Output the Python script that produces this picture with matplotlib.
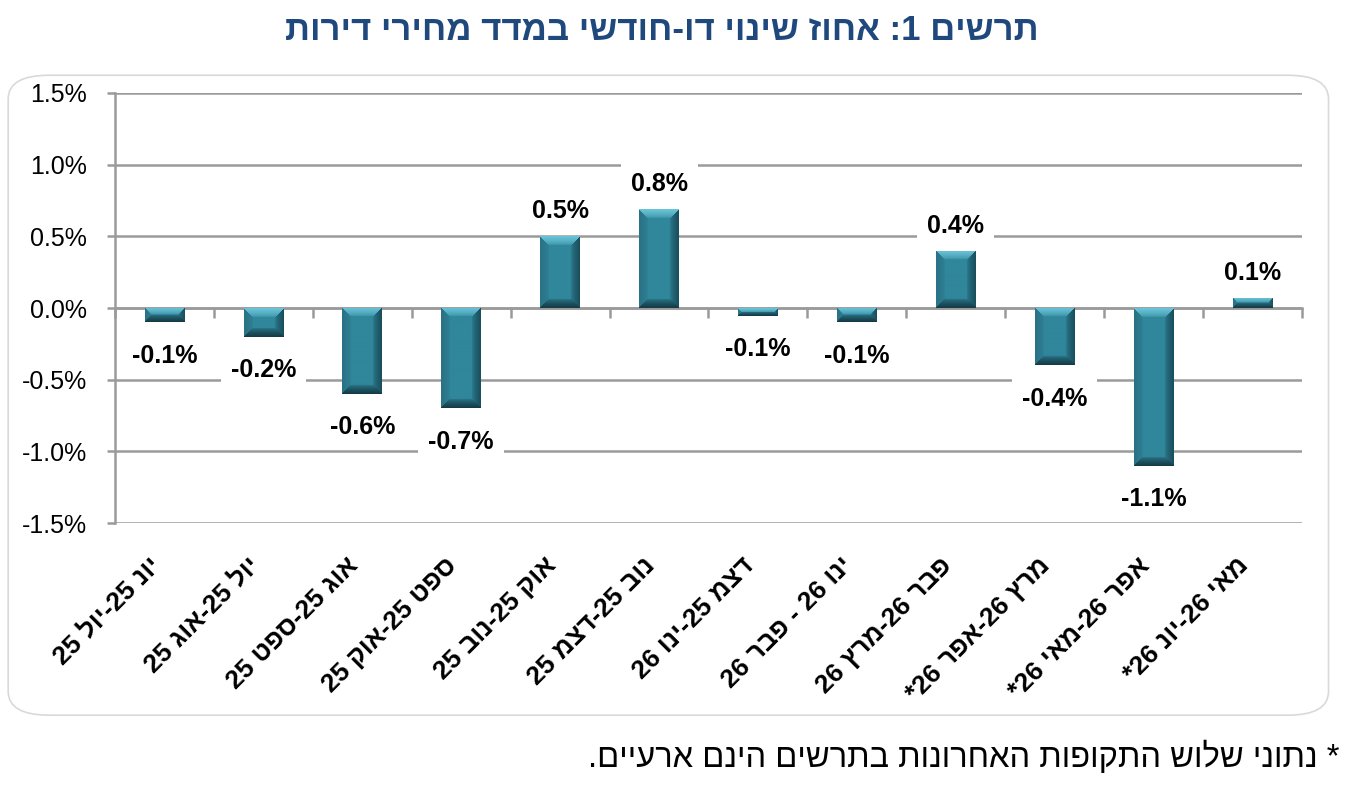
import re
import numpy as np
import matplotlib
matplotlib.use('Agg')
import matplotlib.pyplot as plt
from matplotlib.patches import FancyBboxPatch
from matplotlib.transforms import blended_transform_factory

plt.rcParams['font.family'] = ['Liberation Sans', 'DejaVu Sans']

# נתונים (סדר לוגי)
periods = ['יונ 25-יול 25', 'יול 25-אוג 25', 'אוג 25-ספט 25', 'ספט 25-אוק 25',
           'אוק 25-נוב 25', 'נוב 25-דצמ 25', 'דצמ 25-ינו 26', 'ינו 26 - פבר 26',
           'פבר 26-מרץ 26', 'מרץ 26-אפר 26*', 'אפר 26-מאי 26*', 'מאי 26-יונ 26*']
values = [-0.1, -0.2, -0.6, -0.7, 0.5, 0.69, -0.055, -0.1, 0.4, -0.4, -1.1, 0.07]
value_labels = ['-0.1%', '-0.2%', '-0.6%', '-0.7%', '0.5%', '0.8%',
                '-0.1%', '-0.1%', '0.4%', '-0.4%', '-1.1%', '0.1%']
y_ticks = [-1.5, -1.0, -0.5, 0.0, 0.5, 1.0, 1.5]

title = 'תרשים 1: אחוז שינוי דו-חודשי במדד מחירי דירות'
note = '* נתוני שלוש התקופות האחרונות בתרשים הינם ארעיים.'

grid_col = '#9a9a9a'
bar_col = '#2f8398'


def heb(s):
    # matplotlib has no bidi: reverse for display, keep numbers in order
    rev = s[::-1]
    return re.sub(r'\d+(?:\.\d+)?', lambda m: m.group(0)[::-1], rev)


def bevel(w, h, b):
    r = np.arange(h)[:, None] + np.zeros((1, w))
    c = np.arange(w)[None, :] + np.zeros((h, 1))
    d = np.stack([r, h - 1 - r, c, w - 1 - c])
    idx = d.argmin(0)
    m = d.min(0)
    center = np.array([0x30, 0x86, 0x9b]) / 255
    edges = np.array([[0x6a, 0xc4, 0xd8], [0x15, 0x3c, 0x47],
                      [0x2a, 0x72, 0x85], [0x1a, 0x4f, 0x5d]]) / 255
    t = np.clip((b - m) / b, 0, 1) ** 0.6
    img = center + (edges[idx] - center) * t[..., None]
    return img


fig = plt.figure(figsize=(13.64, 7.92), dpi=100)
fig.patches.append(FancyBboxPatch((0.006, 0.097), 0.968, 0.808,
                                  boxstyle='round,pad=0,rounding_size=0.03',
                                  transform=fig.transFigure, fc='none',
                                  ec='#d9d9d9', lw=1.2, zorder=0))

ax = fig.add_axes([0.0843, 0.3396, 0.8702, 0.543])
ax.set_facecolor('none')
x = np.arange(len(values))
bars = ax.bar(x, values, width=0.4, color=bar_col, zorder=3)

ax.set_xlim(-0.5, len(values) - 0.5)
ax.set_ylim(-1.5, 1.5)

# bevel shading for each bar
px_per_unit = ax.bbox.height / 3.0
px_per_cat = ax.bbox.width / len(values)
for rect in bars:
    x0, y0 = rect.get_x(), rect.get_y()
    w, h = rect.get_width(), rect.get_height()
    ybot, ytop = min(y0, y0 + h), max(y0, y0 + h)
    wp = max(int(round(w * px_per_cat)), 2)
    hp = max(int(round((ytop - ybot) * px_per_unit)), 2)
    b = min(9, hp / 2.0, wp / 2.0)
    im = ax.imshow(bevel(wp, hp, b), extent=(x0, x0 + w, ybot, ytop),
                   aspect='auto', interpolation='bilinear', zorder=4)
    im.set_clip_path(rect)

ax.set_xlim(-0.5, len(values) - 0.5)
ax.set_ylim(-1.5, 1.5)

ax.set_yticks(y_ticks)
ax.set_yticklabels([f'{v:.1f}%' for v in y_ticks], fontsize=18)
ax.yaxis.grid(True, color=grid_col, lw=1.8)
ax.set_axisbelow(True)
ax.tick_params(axis='y', direction='out', length=6, width=1.8, color=grid_col, pad=14)

for s in ['top', 'right']:
    ax.spines[s].set_visible(False)
ax.spines['left'].set_color(grid_col)
ax.spines['left'].set_linewidth(1.8)
ax.spines['bottom'].set_position(('data', 0))
ax.spines['bottom'].set_color(grid_col)
ax.spines['bottom'].set_linewidth(1.8)
ax.spines['bottom'].set_zorder(2.5)
ax.set_xticks([])
ax.set_xticks(np.arange(-0.5, len(values), 1.0), minor=True)
ax.tick_params(axis='x', which='minor', direction='out', length=7, width=1.8, color=grid_col)

# category labels under the plot area
tr = blended_transform_factory(ax.transData, ax.transAxes)
for i, p in enumerate(periods):
    ax.text(i - 0.08, -0.09, heb(p), transform=tr, rotation=45, rotation_mode='anchor',
            ha='right', va='center', fontsize=19, fontweight='bold')

# value labels
for i, (v, lab) in enumerate(zip(values, value_labels)):
    off = 18 if v >= 0 else -24
    ax.annotate(lab, (i, v), xytext=(0, off), textcoords='offset points',
                ha='center', va='center', fontsize=18, fontweight='bold', zorder=5,
                bbox=dict(boxstyle='square,pad=0.4', fc='white', ec='none'))

fig.text(0.485, 0.962, heb(title), ha='center', va='center', fontsize=25,
         fontweight='bold', color='#1f497d')
fig.text(0.982, 0.044, heb(note), ha='right', va='center', fontsize=23.5)

fig.savefig('out.png', dpi=100)
